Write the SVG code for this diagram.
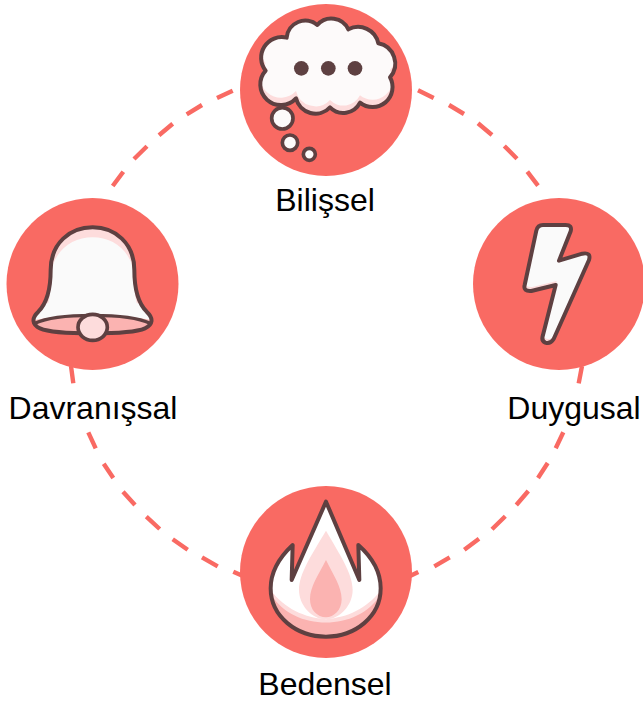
<svg xmlns="http://www.w3.org/2000/svg" width="643" height="704" viewBox="0 0 643 704">
<style>
.disc{fill:#f96a63}
.dash{stroke:#f96a63;stroke-width:4.4;fill:none}
.out{fill:none;stroke:#5e4041;stroke-width:12;stroke-linejoin:round}
.lab{font-family:"Liberation Sans",Arial,sans-serif;font-size:32px;fill:#000;text-anchor:middle}
.ink{fill:#5e4041}
.w{fill:#fdfafa}
.p{fill:#fddcdc}
.m{fill:#fbb3b1}
</style>
<defs>
<path id="cloud" d="M107 212A62 62 0 0 1 170 113A56 56 0 0 1 262 75A56 56 0 0 1 355 88A62 62 0 0 1 445 130A62 62 0 0 1 480 232A60 60 0 0 1 390 308A56 56 0 0 1 300 322A60 60 0 0 1 198 295A60 60 0 0 1 107 212Z"/>
<clipPath id="cc"><use href="#cloud"/></clipPath>
<path id="bell" d="M152 240C152 160 210 112 278 112C345 112 403 160 403 240C403 290 410 335 440 365C462 385 458 405 435 415C390 435 165 435 120 415C97 405 93 385 115 365C145 335 152 290 152 240Z"/>
<clipPath id="bc"><use href="#bell"/></clipPath>
<path id="bolt" d="M220 122Q224 105 240 105L308 105Q328 105 323 124L288 212L358 191Q385 186 378 210L272 447Q262 463 247 458Q234 452 240 435L278 285L205 303Q180 305 185 285Z"/>
<clipPath id="zc"><use href="#bolt"/></clipPath>
<path id="flame" d="M288 65L388 300L385 195C430 235 452 280 452 325C452 410 375 470 288 470C200 470 122 410 122 325C122 280 145 235 188 195L185 300Z"/>
<clipPath id="fc"><use href="#flame"/></clipPath>
</defs>
<g id="connectors">
<path class="dash" d="M232.700 90.700L217 98M202 105L186.700 114.300M172.700 123.700L159 135.300M147 146.300L134 159M123.300 171.700L112.700 186"/>
<path class="dash" d="M418 90.300L433.700 98M449 105L464 114M478 123.300L492 135M504.300 146L517 158.700M527.300 171.700L538 185.700"/>
<path class="dash" d="M71 366L73.300 383.300M88.300 432.300L95.700 448.300M103.700 463.700L113.300 478M123 491.700L135 505M146.300 516.700L159.700 529M172.700 539.300L187.700 549.700M202 557.300L217.700 566.300M233.300 571.700L243 576"/>
<path class="dash" d="M582 366L578.700 383.300M563.300 432.300L555.700 448.300M547.700 463L538 478M528.300 491L516.300 505M505.300 516.300L492 529.300M479 538.700L464.300 549.700M449.700 557.300L434.300 566.300M418.300 572L410 576"/>
</g>
<g id="bilissel">
<circle class="disc" cx="326" cy="90" r="86"/>
<g transform="translate(230 0) scale(.33333)">
<use href="#cloud" class="p"/>
<g clip-path="url(#cc)"><use href="#cloud" class="w" transform="translate(0 -22)"/></g>
<use href="#cloud" class="out"/>
<circle class="ink" cx="214" cy="205" r="22"/><circle class="ink" cx="295" cy="205" r="22"/><circle class="ink" cx="375" cy="205" r="22"/>
<circle cx="157" cy="355" r="32" fill="#fdfafa" stroke="#5e4041" stroke-width="11"/>
<circle cx="180" cy="428" r="23" fill="#fdfafa" stroke="#5e4041" stroke-width="11"/>
<circle cx="238" cy="463" r="18" fill="#fdfafa" stroke="#5e4041" stroke-width="11"/>
</g>
<text class="lab" x="325" y="211">Bilişsel</text>
</g>
<g id="davranissal">
<circle class="disc" cx="92.500" cy="284" r="86"/>
<g transform="translate(0 190) scale(.33333)">
<use href="#bell" class="p"/>
<g clip-path="url(#bc)"><use href="#bell" fill="#fafafa" transform="translate(0 30)"/><rect x="90" y="375" width="380" height="80" fill="#fbb3b1"/><path d="M90 395C150 370 400 370 470 395L470 340L90 340Z" fill="#fafafa"/></g>
<use href="#bell" class="out"/>
<path d="M105 400C170 368 385 368 450 400" class="out" style="stroke-width:10"/>
<ellipse cx="278" cy="412" rx="44" ry="39" fill="#fddcdc" stroke="#5e4041" stroke-width="11"/>
</g>
<text class="lab" x="93" y="419">Davranışsal</text>
</g>
<g id="duygusal">
<circle class="disc" cx="559" cy="284" r="86"/>
<g transform="translate(463 190) scale(.33333)">
<use href="#bolt" class="p"/>
<g clip-path="url(#zc)"><use href="#bolt" fill="#fafafa" transform="translate(3 -12)"/></g>
<use href="#bolt" class="out"/>
</g>
<text class="lab" x="574" y="419">Duygusal</text>
</g>
<g id="bedensel">
<circle class="disc" cx="326" cy="572" r="86"/>
<g transform="translate(230 480) scale(.33333)">
<use href="#flame" fill="#fff"/>
<g clip-path="url(#fc)">
<path d="M110 315C160 385 215 410 288 418C360 410 415 385 465 315L465 480L110 480Z" class="p"/>
<path d="M125 345C190 455 385 455 450 345L465 480L110 480Z" class="m"/>
</g>
<path d="M288 152C330 225 368 280 368 330C368 375 330 418 288 418C245 418 207 375 207 330C207 280 245 225 288 152Z" class="p"/>
<path d="M288 240C310 285 335 320 335 358C335 390 312 412 288 412C262 412 240 390 240 358C240 320 265 285 288 240Z" class="m"/>
<use href="#flame" class="out"/>
</g>
<text class="lab" x="325" y="695">Bedensel</text>
</g>
</svg>
